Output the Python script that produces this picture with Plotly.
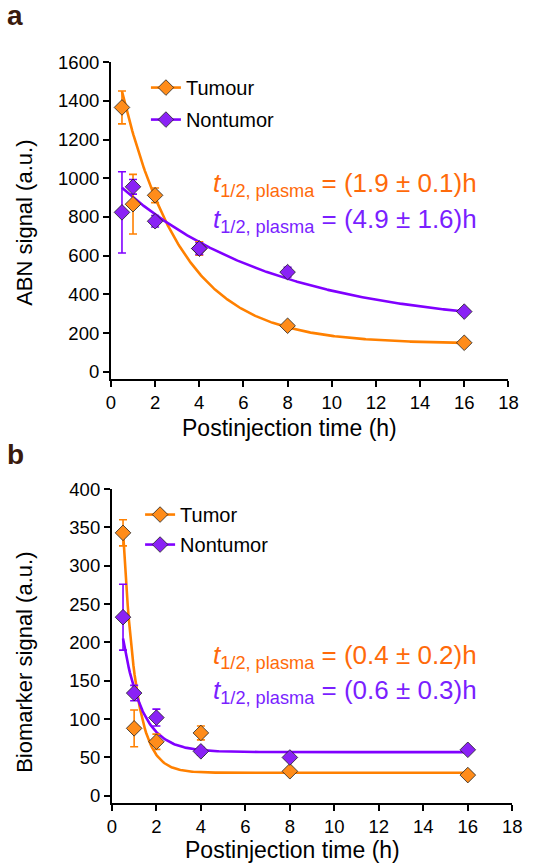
import numpy as np
import plotly.graph_objects as go

# ---------------- data ----------------
time_h = [0.5, 1, 2, 4, 8, 16]
x_ticks = [0, 2, 4, 6, 8, 10, 12, 14, 16, 18]

# panel a (ABN signal)
a_tumour = [1366, 866, 912, 637, 238, 150]
a_tumour_err = [85, 154, 38, 35, 0, 0]
a_nontumor = [824, 956, 778, 637, 515, 311]
a_nontumor_err = [210, 38, 30, 30, 25, 0]
# fit parameters: amplitude, plateau, half-life (h)
a_tumour_fit = (1565, 145, 1.9)
a_nontumor_fit = (773, 231, 4.9)

# panel b (Biomarker signal)
b_tumor = [343, 88, 70.5, 82, 32, 27]
b_tumor_err = [17, 24, 10, 9, 0, 0]
b_nontumor = [233, 134, 102, 58, 50, 60]
b_nontumor_err = [43, 10, 11, 5, 0, 0]
b_tumor_fit = (749, 30, 0.4)
b_nontumor_fit = (264, 57, 0.6)

ORANGE = "#ff8000"
ORANGE_M = "#ff8c1a"
ORANGE_T = "#ff6a0a"
PURPLE = "#8000ff"
PURPLE_M = "#8a22f5"
PURPLE_T = "#7a1fff"
FONT = "Arial, Liberation Sans, sans-serif"

def fit_curve(params):
    amp, plateau, th = params
    t = np.linspace(min(time_h), max(time_h), 300)
    k = np.log(2) / th
    return t, amp * np.exp(-k * t) + plateau

fig = go.Figure()

def add_panel(xa, ya, y1, e1, f1, y2, e2, f2, name1, name2, legend):
    series = [(y1, e1, f1, ORANGE, ORANGE_M, name1), (y2, e2, f2, PURPLE, PURPLE_M, name2)]
    for yv, ev, fp, col, mcol, nm in series:
        tx, ty = fit_curve(fp)
        fig.add_trace(go.Scatter(x=tx, y=ty, mode="lines", xaxis=xa, yaxis=ya,
                                 line=dict(color=col, width=2.6), showlegend=False,
                                 hoverinfo="skip"))
    for yv, ev, fp, col, mcol, nm in series:
        fig.add_trace(go.Scatter(x=time_h, y=yv, mode="markers", xaxis=xa, yaxis=ya,
                                 marker=dict(symbol="diamond", size=12, color=mcol,
                                             line=dict(color="#222222", width=0.8)),
                                 error_y=dict(type="data", array=ev, visible=True,
                                              color=col, thickness=1.6, width=4),
                                 showlegend=False))
    for i, (yv, ev, fp, col, mcol, nm) in enumerate(series):
        fig.add_trace(go.Scatter(x=[None], y=[None], mode="lines+markers", xaxis=xa, yaxis=ya,
                                 name=nm, legend=legend, legendgroup=legend + str(i),
                                 line=dict(color=col, width=2.6),
                                 marker=dict(symbol="diamond", size=12, color=mcol,
                                             line=dict(color="#222222", width=0.8))))

add_panel("x", "y", a_tumour, a_tumour_err, a_tumour_fit,
          a_nontumor, a_nontumor_err, a_nontumor_fit, "Tumour", "Nontumor", "legend")
add_panel("x2", "y2", b_tumor, b_tumor_err, b_tumor_fit,
          b_nontumor, b_nontumor_err, b_nontumor_fit, "Tumor", "Nontumor", "legend2")

W, H = 533, 867
def py(p):
    return 1 - p / H

axis_common = dict(showline=True, linecolor="black", linewidth=2, ticks="outside",
                   ticklen=6, tickwidth=2, tickcolor="black", showgrid=False,
                   zeroline=False, tickfont=dict(size=18.5, color="black", family=FONT))

legend_font = dict(size=20, color="black", family=FONT)
fig.update_layout(
    width=W, height=H, margin=dict(l=0, r=0, t=0, b=0),
    paper_bgcolor="white", plot_bgcolor="white",
    font=dict(family=FONT, color="black"),
    xaxis=dict(domain=[109 / W, 518 / W], range=[0, 18], tickvals=x_ticks,
               anchor="y", **axis_common),
    yaxis=dict(domain=[py(374), py(52)], range=[-37, 1600], dtick=200, anchor="x",
               **axis_common),
    xaxis2=dict(domain=[110 / W, 522 / W], range=[0, 18], tickvals=x_ticks,
                anchor="y2", **axis_common),
    yaxis2=dict(domain=[py(805), py(486)], range=[-9.4, 400], dtick=50, anchor="x2",
                **axis_common),
    legend=dict(x=145 / W, y=py(58), xanchor="left", yanchor="top",
                font=legend_font, bgcolor="rgba(0,0,0,0)", tracegroupgap=3),
    legend2=dict(x=139 / W, y=py(492), xanchor="left", yanchor="top",
                 font=legend_font, bgcolor="rgba(0,0,0,0)", tracegroupgap=1),
)

# panel letters
for txt, yb in [("a", 22), ("b", 469)]:
    fig.add_annotation(text=f"<b>{txt}</b>", x=0, y=py(yb), xref="paper", yref="paper",
                       xanchor="left", yanchor="bottom", showarrow=False,
                       font=dict(size=28, color="#3a1a0c", family=FONT))

# axis titles
fig.add_annotation(text="Postinjection time (h)", x=8.1, y=py(424), xref="x", yref="paper",
                   xanchor="center", yanchor="middle", showarrow=False, borderpad=0,
                   font=dict(size=23, color="black", family=FONT))
fig.add_annotation(text="Postinjection time (h)", x=8.1, y=py(867), xref="x2", yref="paper",
                   xanchor="center", yanchor="bottom", showarrow=False, borderpad=0,
                   font=dict(size=23, color="black", family=FONT))
for yref, yv, txt in [("y", 772, "ABN signal (a.u.)"), ("y2", 174, "Biomarker signal (a.u.)")]:
    fig.add_annotation(text=txt, x=20 / W, y=yv, xref="paper", yref=yref, textangle=-90,
                       xanchor="center", yanchor="middle", showarrow=False,
                       font=dict(size=22, color="black", family=FONT))

def half_life_text(val, err):
    return f"<i>t</i><sub>1/2, plasma</sub> = ({val} ± {err})h"

eqs = [
    ("1.9", "0.1", ORANGE_T, 176),
    ("4.9", "1.6", PURPLE_T, 213),
    ("0.4", "0.2", ORANGE_T, 656),
    ("0.6", "0.3", PURPLE_T, 692),
]
for val, err, col, yc in eqs:
    fig.add_annotation(text=half_life_text(val, err), x=212 / W, y=py(yc),
                       xref="paper", yref="paper", xanchor="left", yanchor="middle",
                       showarrow=False, font=dict(size=26, color=col, family=FONT))

fig.write_html("out.html")
